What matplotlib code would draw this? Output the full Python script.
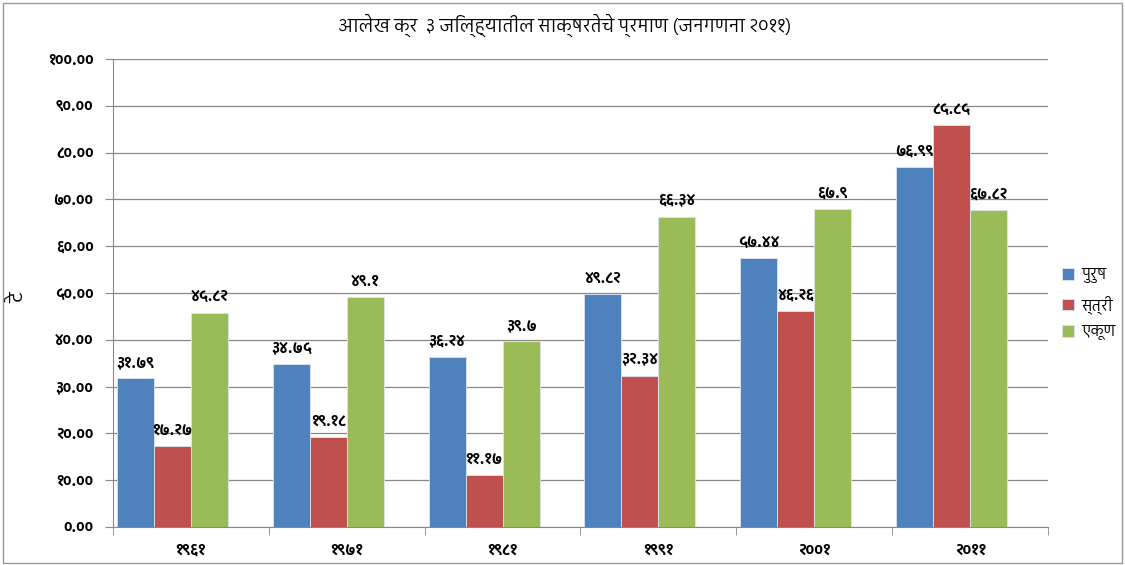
import matplotlib
matplotlib.use("Agg")
import matplotlib.pyplot as plt
import numpy as np
from matplotlib import font_manager
from matplotlib.ft2font import FT2Font
from matplotlib.patches import Rectangle

years = ['१९६१', '१९७१', '१९८१', '१९९१', '२००१', '२०११']
series = ['पुरुष', 'स्त्री', 'एकूण']
purush = [31.79, 34.75, 36.24, 49.82, 57.44, 76.99]
stri = [17.27, 19.18, 11.17, 32.34, 46.26, 85.85]
ekun = [45.82, 49.1, 39.7, 66.34, 67.9, 67.82]
colors = ['#4F81BD', '#C0504D', '#9BBB59']
title = 'आलेख क्र  ३ जिल्ह्यातील साक्षरतेचे प्रमाण (जनगणना २०११)'
ylabel = 'टे'

# collect fonts that have devanagari glyphs, prefer a proportional sans
cands = []
for f in font_manager.fontManager.ttflist:
    try:
        if 0x0915 in FT2Font(f.fname).get_charmap():
            cands.append(f.name)
    except Exception:
        pass
cands = sorted(set(cands))


def score(n):
    s = 0
    if 'Mono' in n:
        s += 10
    if 'Sans' not in n:
        s += 2
    if 'Devanagari' in n:
        s -= 3
    return s


cands.sort(key=score)
deva = cands[0] if cands else None
fam = [deva, 'DejaVu Sans'] if deva else ['DejaVu Sans']
plt.rcParams['font.family'] = fam

digits = str.maketrans('0123456789', '०१२३४५६७८९')


def dev(s):
    return s.translate(digits)


fig = plt.figure(figsize=(11.25, 5.65), dpi=100)
ax = fig.add_axes([113 / 1125, 38 / 565, 935 / 1125, 468 / 565])

x = np.arange(len(years))
w = 0.2375
offs = [-1.5 * w, -0.5 * w, 0.5 * w]
for vals, off, c, name in zip([purush, stri, ekun], offs, colors, series):
    bars = ax.bar(x + off, vals, w, color=c, edgecolor='#dce6f0', linewidth=0.6,
                  label=name, zorder=3)
    for b, v in zip(bars, vals):
        ax.annotate(dev(str(v)), (b.get_x() + b.get_width() / 2, v),
                    xytext=(0, 6), textcoords='offset points', ha='center',
                    va='bottom', fontsize=11, fontweight='bold', zorder=4)

ax.set_xlim(-0.5, len(years) - 0.5)
ax.set_ylim(0, 100)
yt = np.arange(0, 101, 10)
ax.set_yticks(yt)
ax.set_yticklabels([dev('%.2f' % v) for v in yt], fontsize=10.5, fontweight='bold')
ax.set_xticks(x)
ax.set_xticklabels(years, fontsize=11, fontweight='bold')
ax.set_xticks(np.arange(-0.5, len(years)), minor=True)
ax.tick_params(axis='x', which='major', length=0, pad=12)
ax.tick_params(axis='x', which='minor', length=6, color='#888888')
ax.tick_params(axis='y', length=6, color='#888888', pad=8)
ax.grid(axis='y', color='#888888', linewidth=0.9, zorder=0)
for s in ['top', 'right']:
    ax.spines[s].set_visible(False)
for s in ['left', 'bottom']:
    ax.spines[s].set_color('#888888')

ax.set_ylabel(ylabel, fontsize=14)
ax.yaxis.set_label_coords(-0.092, 0.49)
fig.text(0.502, 1 - 25 / 565, title, ha='center', va='center', fontsize=13)

ax.legend(loc='center left', bbox_to_anchor=(1.008, 0.476), frameon=False,
          fontsize=11, handlelength=0.8, handleheight=0.8, labelspacing=0.75,
          handletextpad=0.5, borderaxespad=0)

fig.patches.append(Rectangle((3 / 1125, 2 / 565), 1119 / 1125, 560 / 565,
                             transform=fig.transFigure, fill=False,
                             edgecolor='#999999', linewidth=1))

fig.savefig('out.png', dpi=100)
